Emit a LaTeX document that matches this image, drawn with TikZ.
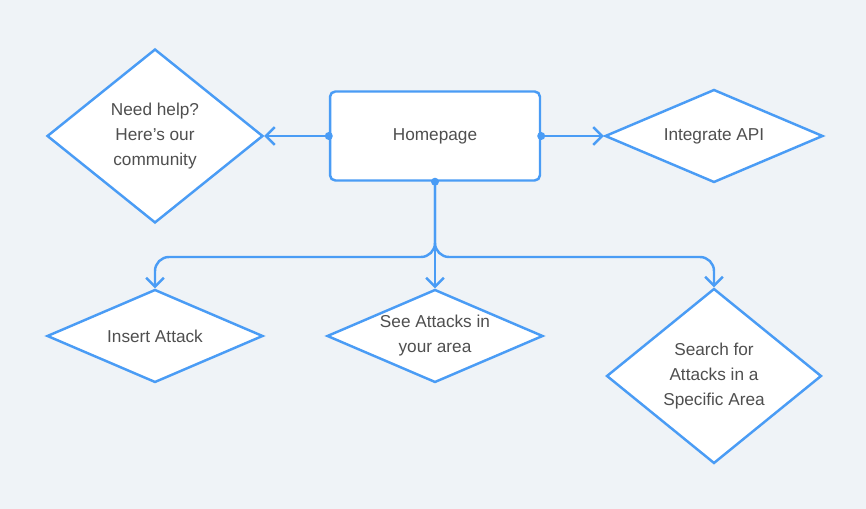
\documentclass[tikz,border=0pt]{standalone}
\usepackage{fontspec}
\setmainfont{Liberation Sans}
\usepackage{tikz}
\usetikzlibrary{shapes.geometric, arrows.meta}

\definecolor{flowblue}{HTML}{4A9CF5}
\definecolor{pagebg}{HTML}{EFF3F7}
\definecolor{labelgray}{HTML}{4F4F4F}

\begin{document}
\begin{tikzpicture}[
    x=0.02cm, y=-0.02cm,
    pagebox/.style={draw=flowblue, fill=white, line width=1.4pt, rounded corners=3pt, minimum width=4.2cm, minimum height=1.78cm, align=center, text=labelgray, font=\fontsize{9.8pt}{14.2pt}\selectfont},
    choice/.style={diamond, draw=flowblue, fill=white, line width=1.4pt, inner sep=0pt, align=center, text=labelgray, font=\fontsize{9.8pt}{14.2pt}\selectfont},
    flow/.style={draw=flowblue, line width=1.4pt, -{Straight Barb[length=5pt, width=10pt, line width=1.4pt]}},
    dot/.style={fill=flowblue}
]
\fill[pagebg] (0,0) rectangle (866,509);

\node[pagebox] (home) at (435, 136) {Homepage};
\node[choice, aspect=1.24, minimum width=4.32cm, minimum height=3.48cm] (help) at (155, 136) {Need help?\\ Here's our\\ community};
\node[choice, aspect=2.34, minimum width=4.36cm, minimum height=1.86cm] (api) at (714, 136) {Integrate API};
\node[choice, aspect=2.32, minimum width=4.32cm, minimum height=1.86cm] (insert) at (155, 336) {Insert Attack};
\node[choice, aspect=2.32, minimum width=4.32cm, minimum height=1.86cm] (seearea) at (435, 336) {See Attacks in\\ your area};
\node[choice, aspect=1.23, minimum width=4.3cm, minimum height=3.5cm] (search) at (714, 376) {Search for\\ Attacks in a\\ Specific Area};

\coordinate (bus) at (435, 257);

\draw[flow] (home.west) -- (help.east);
\draw[flow] (home.east) -- (api.west);
\draw[flow, rounded corners=8pt] (home.south) |- (insert.north |- bus) -- (insert.north);
\draw[flow] (home.south) -- (seearea.north);
\draw[flow, rounded corners=8pt] (home.south) |- (search.north |- bus) -- (search.north);

\fill[dot] (home.west) circle[radius=0.08cm];
\fill[dot] (home.east) circle[radius=0.08cm];
\fill[dot] (home.south) circle[radius=0.08cm];
\end{tikzpicture}
\end{document}
